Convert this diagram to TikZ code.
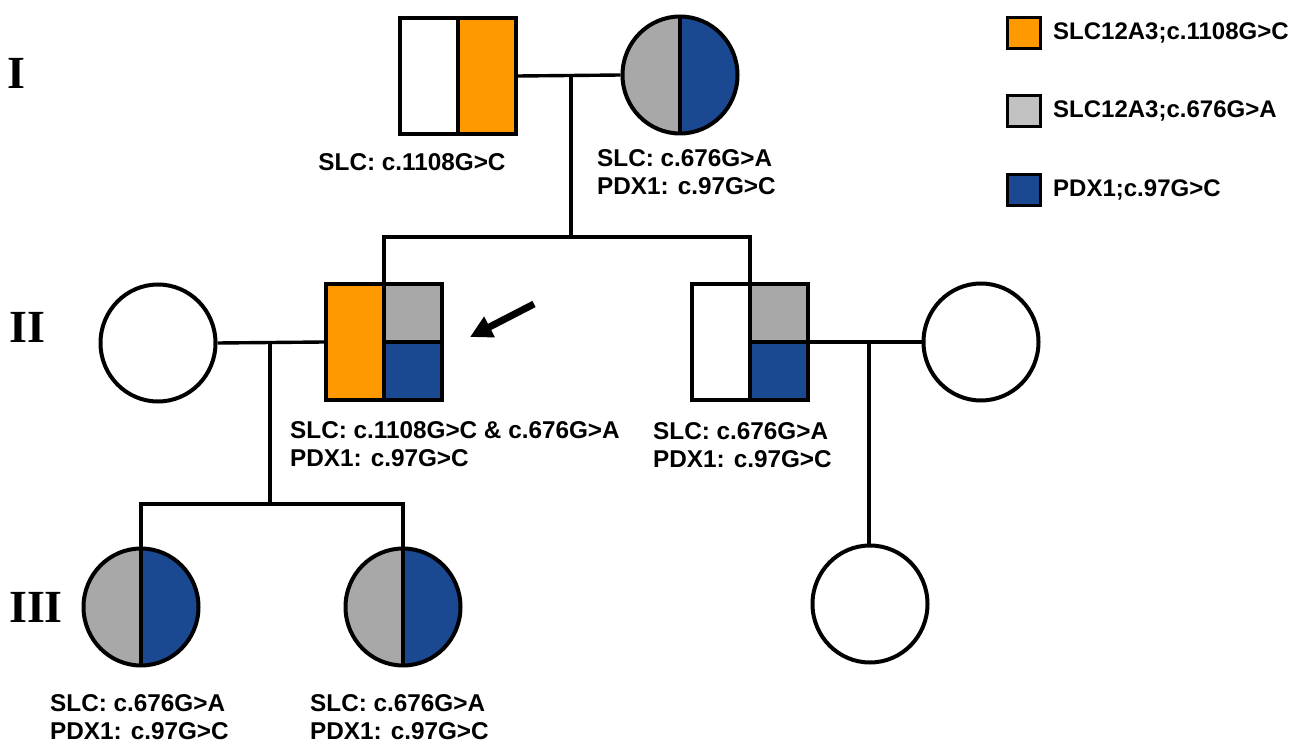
\documentclass[tikz,border=0pt]{standalone}
\usepackage{fontspec}
\setmainfont{Liberation Sans}
\newfontfamily\romanfont{Liberation Serif}
\usetikzlibrary{arrows.meta,shapes.geometric}
\definecolor{orng}{RGB}{255,153,0}
\definecolor{gry}{RGB}{168,168,168}
\definecolor{lgry}{RGB}{194,194,194}
\definecolor{blu}{RGB}{26,72,145}
\tikzset{
 person/.style={draw=black, line width=4pt, inner sep=0pt},
 male/.style={person, rectangle, minimum width=116pt, minimum height=116pt},
 female/.style={person, ellipse, minimum width=115pt, minimum height=117pt},
 link/.style={line width=3.4pt},
 lbl/.style={font=\bfseries\fontsize{24.3}{28}\selectfont, inner sep=0pt, align=left},
 gen/.style={font=\romanfont\bfseries\fontsize{46}{46}\selectfont, inner sep=0pt, anchor=west},
 legbox/.style={draw=black, line width=2.8pt, minimum width=33pt, minimum height=31pt, inner sep=0pt},
 legtext/.style={font=\bfseries\fontsize{24}{28}\selectfont, inner sep=0pt, anchor=west},
 splitv/.style 2 args={path picture={
   \fill[#1] (path picture bounding box.south west) rectangle (path picture bounding box.north);
   \fill[#2] (path picture bounding box.south) rectangle (path picture bounding box.north east);
   \draw[line width=3.4pt] (path picture bounding box.south) -- (path picture bounding box.north);}},
 quad/.style n args={3}{path picture={
   \fill[#1] (path picture bounding box.south west) rectangle (path picture bounding box.north);
   \fill[#2] (path picture bounding box.north) rectangle (path picture bounding box.east);
   \fill[#3] (path picture bounding box.center) rectangle (path picture bounding box.south east);
   \draw[line width=3.4pt] (path picture bounding box.south) -- (path picture bounding box.north);
   \draw[line width=3.4pt] (path picture bounding box.center) -- (path picture bounding box.east);}},
}
\begin{document}
\begin{tikzpicture}[x=1pt,y=-1pt]
\useasboundingbox[fill=white] (0,0) rectangle (1299,746);

% generation labels
\node[gen] (gI) at (7,73) {I};
\node[gen] (gII) at (9,327) {II};
\node[gen] (gIII) at (9,607) {III};

% generation I
\node[male, splitv={white}{orng}] (I1) at (458,76) {};
\node[female, splitv={gry}{blu}] (I2) at (680,75) {};
\node[lbl] (tI1) at (412,162) {SLC: c.1108G>C};
\node[lbl, anchor=west] (tI2) at (597,172) {SLC: c.676G>A\\PDX1: c.97G>C};

% generation II
\node[female] (II1) at (158,343) {};
\node[male, quad={orng}{gry}{blu}] (II2) at (384,342) {};
\node[male, quad={white}{gry}{blu}] (II3) at (750,342) {};
\node[female] (II4) at (981,342) {};
\node[lbl, anchor=west] (tII2) at (290,444) {SLC: c.1108G>C \& c.676G>A\\PDX1: c.97G>C};
\node[lbl, anchor=west] (tII3) at (653,445) {SLC: c.676G>A\\PDX1: c.97G>C};

% generation III
\node[female, splitv={gry}{blu}] (III1) at (141,607) {};
\node[female, splitv={gry}{blu}] (III2) at (403,607) {};
\node[female] (III3) at (870,604) {};
\node[lbl, anchor=west] (tIII1) at (50,717) {SLC: c.676G>A\\PDX1: c.97G>C};
\node[lbl, anchor=west] (tIII2) at (310,717) {SLC: c.676G>A\\PDX1: c.97G>C};

% connectors
\coordinate (m1) at (571,75);
\coordinate (s1) at (571,237);
\draw[link] (I1.east) -- (I2.west);
\draw[link] (m1) -- (s1);
\draw[link] (II2.north) |- (s1) -| (II3.north);

\coordinate (m2) at (270,343);
\coordinate (s2) at (270,504);
\draw[link] (II1.east) -- (II2.west);
\draw[link] (m2) -- (s2);
\draw[link] (III1.north) |- (s2) -| (III2.north);

\coordinate (m3) at (869,342);
\draw[link] (II3.east) -- (II4.west);
\draw[link] (m3) -- (m3 |- III3.north);

% proband arrow
\coordinate (arT) at (534,304);
\coordinate (arH) at (470,337);
\draw[line width=7pt, -{Triangle[length=22pt,width=22pt]}] (arT) -- (arH);

% legend
\node[legbox, fill=orng] (lg1) at (1024,33) {};
\node[legbox, fill=lgry] (lg2) at (1024,111) {};
\node[legbox, fill=blu] (lg3) at (1024,190) {};
\node[legtext] (lt1) at (1053,33) {SLC12A3;c.1108G>C};
\node[legtext] (lt2) at (1053,111) {SLC12A3;c.676G>A};
\node[legtext] (lt3) at (1053,190) {PDX1;c.97G>C};
\end{tikzpicture}
\end{document}
